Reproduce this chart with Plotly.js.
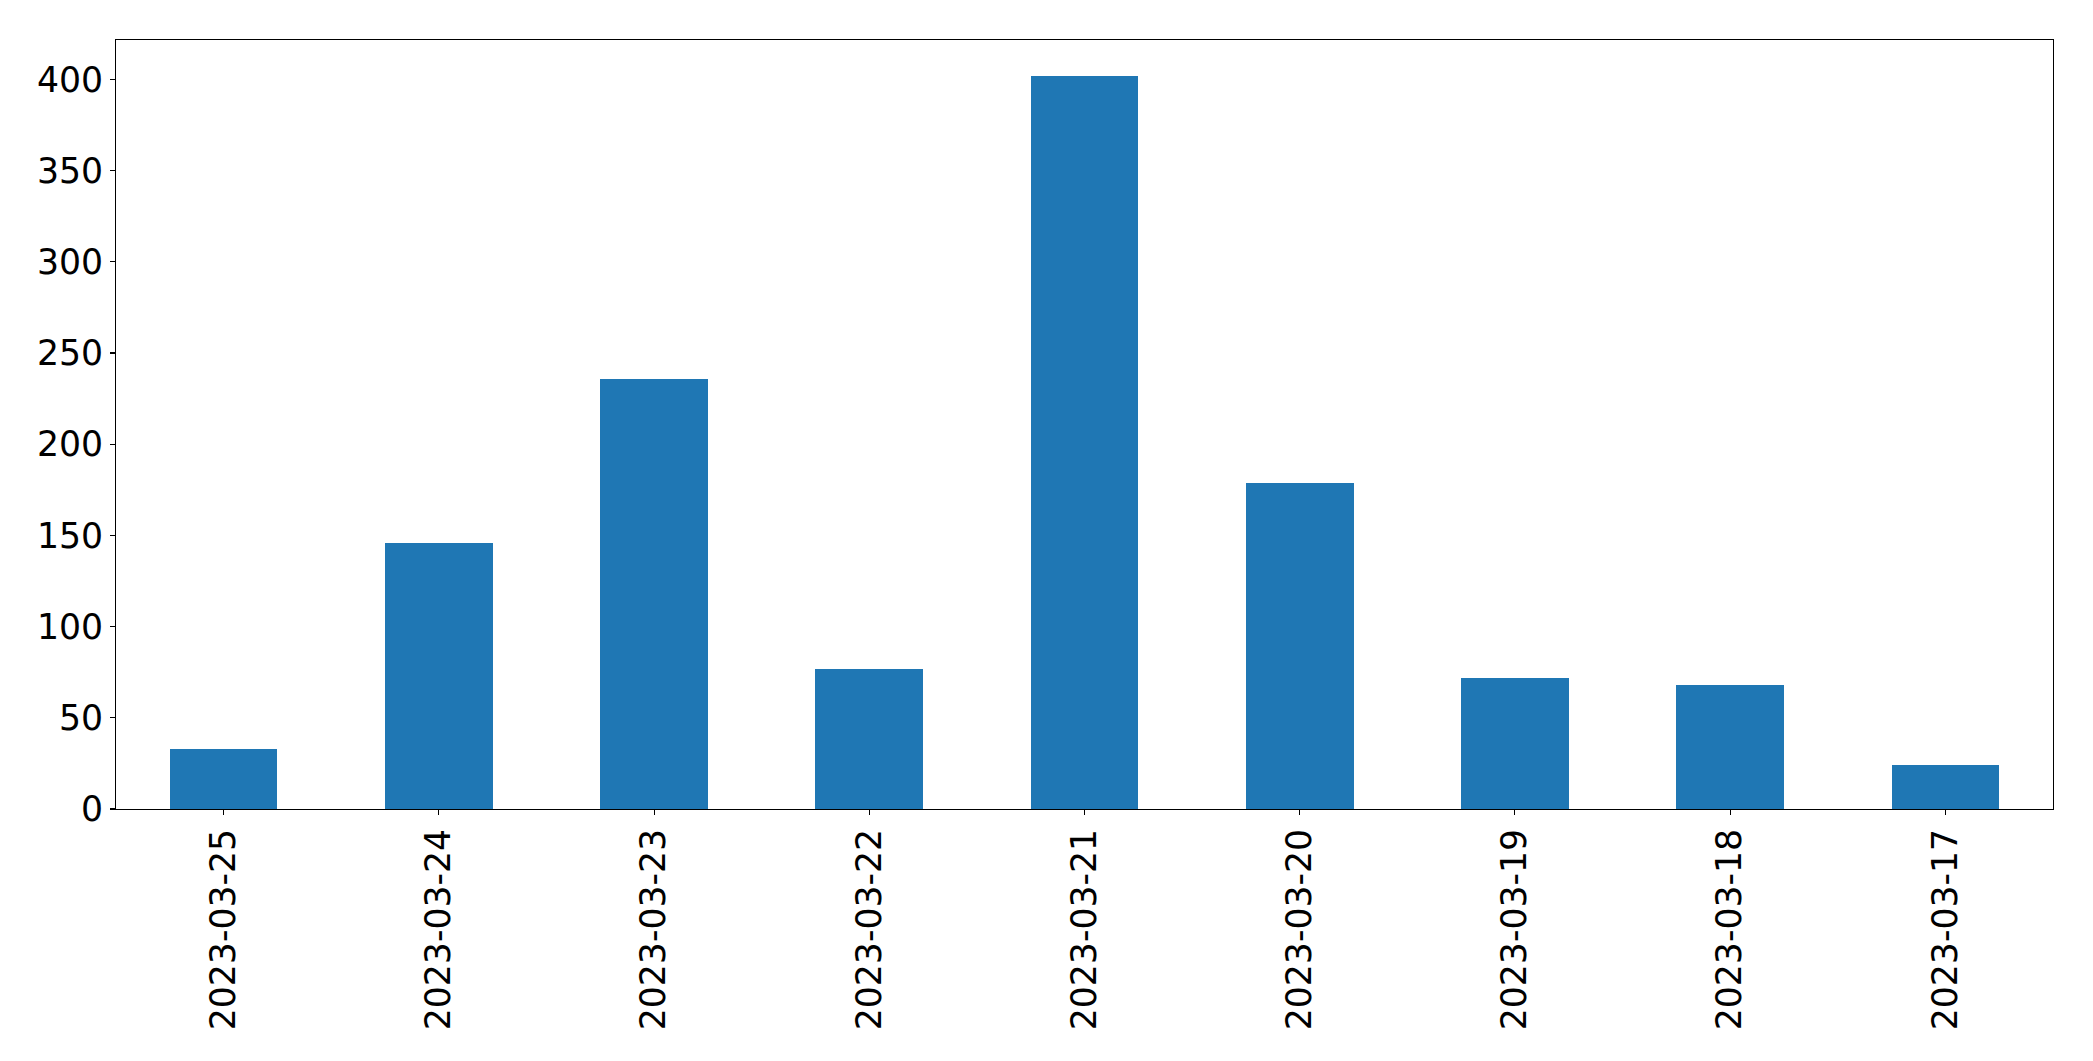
<!DOCTYPE html>
<html>
<head>
<meta charset="utf-8">
<script src="https://cdn.plot.ly/plotly-3.0.1.min.js"></script>
<style>html,body{margin:0;padding:0;background:#fff;}#chart{width:2093px;height:1061px;}</style>
</head>
<body>
<div id="chart"></div>
<script>
const categories = ["2023-03-25","2023-03-24","2023-03-23","2023-03-22","2023-03-21","2023-03-20","2023-03-19","2023-03-18","2023-03-17"];
const counts = [33, 146, 236, 77, 402, 179, 72, 68, 24];
const yTicks = [0, 50, 100, 150, 200, 250, 300, 350, 400];

const fontSpec = {family: "DejaVu Sans", size: 34.67, color: "#000"};

const trace = {
  type: "bar",
  x: categories,
  y: counts,
  width: 0.5,
  marker: {color: "#1f77b4", line: {width: 0}},
  hoverinfo: "x+y"
};

const layout = {
  width: 2093,
  height: 1061,
  margin: {l: 116, r: 40, t: 40, b: 252, pad: 0},
  paper_bgcolor: "#ffffff",
  plot_bgcolor: "#ffffff",
  showlegend: false,
  bargap: 0,
  font: fontSpec,
  xaxis: {
    type: "category",
    range: [-0.5, categories.length - 0.5],
    tickangle: -90,
    tickfont: fontSpec,
    ticks: "outside",
    ticklen: 4.7,
    tickwidth: 1.1,
    tickcolor: "#000",
    showline: true,
    linecolor: "#000",
    linewidth: 1.33,
    mirror: true,
    showgrid: false,
    zeroline: false,
    automargin: false
  },
  yaxis: {
    range: [0, 421.6],
    tickvals: yTicks,
    ticktext: yTicks.map(String),
    tickfont: fontSpec,
    ticks: "outside",
    ticklen: 4.7,
    tickwidth: 1.1,
    tickcolor: "#000",
    showline: true,
    linecolor: "#000",
    linewidth: 1.33,
    mirror: true,
    showgrid: false,
    zeroline: false,
    automargin: false
  }
};

Plotly.newPlot("chart", [trace], layout, {displayModeBar: false, staticPlot: true});
</script>
</body>
</html>
